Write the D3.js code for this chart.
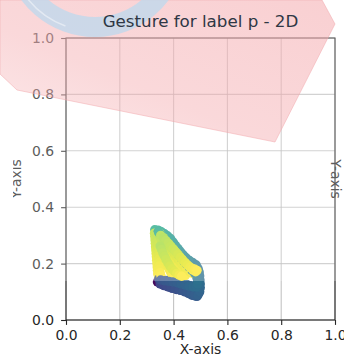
<!DOCTYPE html>
<html>
<head>
<meta charset="utf-8">
<script src="https://cdn.jsdelivr.net/npm/d3@7"></script>
<style>
  html, body { margin: 0; padding: 0; background: #fff; }
  svg { display: block; font-family: "DejaVu Sans", sans-serif; }
</style>
</head>
<body>
<svg id="chart" width="344" height="364"></svg>
<script>
// ---- chart text and ticks ----
const titleText = "Gesture for label p - 2D";
const xLabel = "X-axis";
const yLabel = "Y-axis";
const xTicks = [0.0, 0.2, 0.4, 0.6, 0.8, 1.0];
const yTicks = [0.0, 0.2, 0.4, 0.6, 0.8, 1.0];

// ---- gesture samples: [x, y, t] in drawing order, t = normalised time stamp ----
const sample1 = [
  [0.340,0.135,0.02],[0.355,0.130,0.05],[0.370,0.125,0.08],[0.385,0.119,0.11],[0.400,0.116,0.14],[0.415,0.114,0.17],[0.430,0.112,0.20],[0.445,0.106,0.22],[0.460,0.098,0.24],[0.474,0.090,0.26],[0.487,0.084,0.28],
  [0.494,0.095,0.29],[0.496,0.108,0.30],[0.495,0.122,0.31],[0.495,0.136,0.33],[0.495,0.150,0.35],[0.494,0.165,0.37],[0.492,0.178,0.39],
  [0.484,0.195,0.41],[0.472,0.203,0.42],[0.460,0.210,0.44],[0.448,0.219,0.45],[0.437,0.229,0.46],[0.427,0.240,0.48],[0.417,0.252,0.49],[0.407,0.264,0.50],[0.398,0.276,0.52],[0.389,0.288,0.53],[0.378,0.298,0.54],[0.366,0.306,0.56],[0.354,0.313,0.57],[0.342,0.318,0.58],[0.330,0.320,0.60],
  [0.329,0.308,0.88],[0.330,0.296,0.89],[0.331,0.284,0.90],[0.332,0.272,0.91],[0.333,0.260,0.92],[0.334,0.248,0.93],[0.335,0.236,0.94],[0.336,0.224,0.95],[0.337,0.212,0.96],[0.338,0.200,0.97],[0.339,0.188,0.97],[0.340,0.176,0.98],[0.341,0.164,0.99],[0.344,0.153,1.00]
];
const sample2 = [
  [0.345,0.146,0.24],[0.360,0.143,0.25],[0.375,0.140,0.26],[0.390,0.137,0.27],[0.405,0.135,0.28],[0.420,0.133,0.29],[0.435,0.130,0.30],[0.450,0.126,0.31],[0.465,0.122,0.32],[0.478,0.118,0.33],
  [0.487,0.125,0.34],[0.490,0.138,0.35],[0.489,0.150,0.36],[0.487,0.162,0.37],[0.484,0.175,0.38],
  [0.476,0.188,0.40],[0.465,0.196,0.42],[0.453,0.205,0.44],[0.442,0.215,0.45],[0.431,0.226,0.47],[0.421,0.238,0.48],[0.411,0.250,0.50],[0.401,0.262,0.51],[0.392,0.274,0.53],[0.382,0.286,0.54],[0.371,0.296,0.56],[0.359,0.305,0.57],[0.347,0.312,0.59],
  [0.345,0.300,0.88],[0.348,0.288,0.89],[0.351,0.276,0.90],[0.354,0.264,0.91],[0.357,0.252,0.92],[0.360,0.240,0.93],[0.364,0.228,0.94],[0.368,0.216,0.95],[0.372,0.204,0.96],[0.377,0.192,0.97],[0.383,0.180,0.98],[0.389,0.169,0.98],[0.396,0.159,0.99],[0.403,0.151,1.00]
];
const sample3 = [
  [0.350,0.128,0.20],[0.365,0.122,0.21],[0.380,0.117,0.22],[0.395,0.112,0.23],[0.410,0.108,0.24],[0.425,0.105,0.25],[0.440,0.100,0.26],[0.455,0.094,0.27],[0.468,0.088,0.28],[0.480,0.085,0.29],
  [0.488,0.094,0.30],[0.491,0.107,0.31],[0.492,0.121,0.32],[0.490,0.135,0.34],[0.487,0.149,0.36],[0.482,0.162,0.38],
  [0.475,0.176,0.40],[0.466,0.186,0.41],[0.456,0.195,0.42],[0.446,0.205,0.44],[0.436,0.215,0.45],[0.426,0.226,0.46],[0.416,0.237,0.48],[0.406,0.249,0.49],[0.397,0.261,0.50],[0.388,0.273,0.52],[0.378,0.284,0.53],[0.368,0.294,0.54],[0.357,0.303,0.56],[0.345,0.311,0.58],
  [0.348,0.298,0.87],[0.354,0.287,0.88],[0.360,0.276,0.89],[0.366,0.265,0.90],[0.372,0.254,0.91],[0.378,0.243,0.92],[0.385,0.232,0.93],[0.392,0.221,0.94],[0.399,0.210,0.95],[0.406,0.199,0.96],[0.413,0.189,0.97],[0.420,0.179,0.97],[0.428,0.171,0.98],[0.436,0.164,0.99],[0.444,0.158,1.00]
];
const sample4 = [
  [0.360,0.124,0.22],[0.375,0.120,0.23],[0.390,0.115,0.24],[0.405,0.111,0.25],[0.420,0.108,0.26],[0.435,0.104,0.27],[0.450,0.099,0.28],[0.465,0.093,0.29],[0.478,0.088,0.30],[0.490,0.088,0.31],
  [0.497,0.100,0.32],[0.499,0.114,0.33],[0.499,0.128,0.34],[0.498,0.142,0.35],[0.497,0.156,0.36],[0.495,0.170,0.37],[0.490,0.184,0.38],
  [0.480,0.196,0.40],[0.468,0.204,0.41],[0.456,0.212,0.43],[0.444,0.222,0.44],[0.433,0.233,0.46],[0.422,0.245,0.47],[0.412,0.257,0.49],[0.402,0.269,0.50],[0.392,0.281,0.52],[0.382,0.292,0.53],[0.371,0.301,0.55],[0.359,0.309,0.56],[0.347,0.316,0.58],
  [0.352,0.305,0.86],[0.360,0.294,0.87],[0.368,0.283,0.88],[0.376,0.272,0.89],[0.384,0.261,0.90],[0.392,0.250,0.91],[0.400,0.239,0.92],[0.408,0.228,0.93],[0.416,0.217,0.94],[0.424,0.207,0.95],[0.432,0.197,0.96],[0.440,0.188,0.96],[0.448,0.180,0.97],[0.456,0.173,0.98],[0.464,0.168,0.98],[0.472,0.165,0.99],[0.480,0.163,1.00]
];
const sample5 = [
  [0.352,0.142,0.26],[0.367,0.139,0.27],[0.382,0.137,0.28],[0.397,0.135,0.29],[0.412,0.132,0.30],[0.427,0.128,0.31],[0.442,0.124,0.32],[0.457,0.120,0.33],[0.472,0.117,0.34],[0.485,0.117,0.35],
  [0.490,0.128,0.36],[0.490,0.141,0.37],[0.487,0.154,0.38],
  [0.478,0.166,0.41],[0.468,0.176,0.42],[0.458,0.187,0.44],[0.448,0.198,0.45],[0.438,0.209,0.46],[0.428,0.220,0.48],[0.418,0.232,0.49],[0.408,0.244,0.50],[0.398,0.256,0.52],[0.388,0.268,0.53],[0.378,0.280,0.54],[0.367,0.291,0.56],[0.356,0.301,0.57],[0.345,0.310,0.59],
  [0.352,0.300,0.87],[0.362,0.290,0.88],[0.372,0.280,0.89],[0.382,0.270,0.90],[0.392,0.259,0.91],[0.402,0.248,0.92],[0.412,0.237,0.93],[0.422,0.226,0.94],[0.432,0.215,0.95],[0.442,0.204,0.96],[0.452,0.194,0.97],[0.462,0.185,0.98],[0.472,0.177,0.99],[0.482,0.171,1.00]
];
const sample6 = [
  [0.386,0.222,0.04],[0.384,0.233,0.08],[0.381,0.244,0.12],[0.378,0.255,0.16],[0.375,0.266,0.22],[0.372,0.277,0.28],[0.368,0.287,0.34],[0.360,0.297,0.40],[0.351,0.305,0.46],[0.342,0.312,0.52],
  [0.338,0.300,0.88],[0.339,0.288,0.89],[0.340,0.276,0.90],[0.341,0.264,0.91],[0.342,0.252,0.92],[0.343,0.240,0.93],[0.344,0.228,0.94],[0.345,0.216,0.95],[0.346,0.204,0.96],[0.347,0.192,0.97],[0.348,0.180,0.98],[0.350,0.168,0.99],[0.353,0.157,1.00]
];
const sample7 = [
  [0.362,0.292,0.86],[0.371,0.282,0.87],[0.380,0.272,0.88],[0.389,0.262,0.89],[0.398,0.252,0.90],[0.407,0.242,0.91],[0.416,0.232,0.92],[0.425,0.222,0.93],[0.434,0.212,0.94],[0.443,0.203,0.95],[0.452,0.195,0.96],[0.461,0.188,0.97],[0.470,0.183,0.98],[0.479,0.180,0.99],[0.487,0.176,1.00]
];
const sample8 = [
  [0.350,0.262,0.86],[0.355,0.250,0.87],[0.360,0.238,0.88],[0.366,0.226,0.89],[0.372,0.214,0.90],[0.379,0.202,0.91],[0.386,0.191,0.92],[0.394,0.181,0.93],[0.403,0.172,0.94],[0.412,0.165,0.96],[0.421,0.159,0.98],[0.430,0.155,1.00]
];
const samples = [sample1, sample2, sample6, sample3, sample4, sample5, sample7, sample8];

// ---- layout ----
const svg = d3.select("#chart");
const defs = svg.append("defs");
const x = d3.scaleLinear().domain([0, 1]).range([66, 335]);
const y = d3.scaleLinear().domain([0, 1]).range([320, 38]);
const color = d3.scaleSequential(d3.interpolateViridis).domain([0, 1]);
const fmt = d3.format(".1f");
const ink = "#262626";

const plot = svg.append("g");

// white axes background
plot.append("rect")
  .attr("x", x(0)).attr("y", y(1))
  .attr("width", x(1) - x(0)).attr("height", y(0) - y(1))
  .attr("fill", "#fff");

// grid
plot.append("g").selectAll("line").data(xTicks).join("line")
  .attr("x1", d => x(d)).attr("x2", d => x(d))
  .attr("y1", y(0)).attr("y2", y(1))
  .attr("stroke", "#b0b0b0").attr("stroke-width", 1.1).attr("opacity", 0.75);
plot.append("g").selectAll("line").data(yTicks).join("line")
  .attr("y1", d => y(d)).attr("y2", d => y(d))
  .attr("x1", x(0)).attr("x2", x(1))
  .attr("stroke", "#b0b0b0").attr("stroke-width", 1.1).attr("opacity", 0.75);

// gesture points, one sample after another, coloured by time stamp
const pts = plot.append("g");
samples.forEach(s => {
  pts.append("g").selectAll("circle").data(s).join("circle")
    .attr("cx", d => x(d[0]))
    .attr("cy", d => y(d[1]))
    .attr("r", 4.7)
    .attr("fill", d => color(d[2]));
});

// spines
plot.append("rect")
  .attr("x", x(0)).attr("y", y(1))
  .attr("width", x(1) - x(0)).attr("height", y(0) - y(1))
  .attr("fill", "none").attr("stroke", ink).attr("stroke-width", 1.1);

// axes
const xAxis = plot.append("g")
  .attr("transform", `translate(0,${y(0)})`)
  .call(d3.axisBottom(x).tickValues(xTicks).tickFormat(fmt).tickSize(4.9).tickPadding(5.5));
const yAxis = plot.append("g")
  .attr("transform", `translate(${x(0)},0)`)
  .call(d3.axisLeft(y).tickValues(yTicks).tickFormat(fmt).tickSize(4.9).tickPadding(7));
[xAxis, yAxis].forEach(a => {
  a.select(".domain").remove();
  a.selectAll(".tick line").attr("stroke", ink).attr("stroke-width", 1.1);
  a.selectAll(".tick text").attr("fill", ink)
    .style("font-size", "13.9px").style("font-family", "'DejaVu Sans', sans-serif");
});

// axis labels
plot.append("text")
  .attr("x", (x(0) + x(1)) / 2).attr("y", 354)
  .attr("text-anchor", "middle")
  .attr("fill", ink).style("font-size", "13.9px")
  .text(xLabel);

defs.append("clipPath").attr("id", "leftClip")
  .append("rect").attr("x", 13).attr("y", 0).attr("width", 40).attr("height", 364);
plot.append("g").attr("clip-path", "url(#leftClip)")
  .append("text")
  .attr("transform", "translate(21,179) rotate(-90)")
  .attr("text-anchor", "middle")
  .attr("fill", ink).style("font-size", "13.9px")
  .text(yLabel);
plot.append("text")
  .attr("transform", "translate(331,179) rotate(90)")
  .attr("text-anchor", "middle")
  .attr("fill", ink).style("font-size", "13.9px")
  .text(yLabel);

// ---- light overlay layer on top of the figure ----
const over = svg.append("g").attr("pointer-events", "none");
over.append("rect")
  .attr("x", 0).attr("y", 0).attr("width", 344).attr("height", 281)
  .attr("fill", "#fff").attr("opacity", 0.25);

const grad = defs.append("linearGradient").attr("id", "pinkFade")
  .attr("x1", 1).attr("y1", 0).attr("x2", 0).attr("y2", 1);
grad.append("stop").attr("offset", 0).attr("stop-color", "#f4a9ad").attr("stop-opacity", 0.55);
grad.append("stop").attr("offset", 0.6).attr("stop-color", "#f4a9ad").attr("stop-opacity", 0.45);
grad.append("stop").attr("offset", 1).attr("stop-color", "#f4a9ad").attr("stop-opacity", 0.25);

over.append("path")
  .attr("d", d3.line()([[0,0],[0,74],[17,90],[275,142],[335,24],[322,0]]) + "Z")
  .attr("fill", "url(#pinkFade)")
  .attr("stroke", "#f1a8ac").attr("stroke-opacity", 0.5).attr("stroke-width", 1);

const ring = d3.arc();
over.append("path")
  .attr("transform", "translate(95,-55)")
  .attr("d", ring({ innerRadius: 72, outerRadius: 92, startAngle: Math.PI / 2 + 0.15, endAngle: 3 * Math.PI / 2 - 0.15 }))
  .attr("fill", "#c3d8eb").attr("opacity", 0.85);
over.append("path")
  .attr("transform", "translate(95,-55)")
  .attr("d", ring({ innerRadius: 85.5, outerRadius: 87, startAngle: Math.PI + 0.35, endAngle: Math.PI + 0.9 }))
  .attr("fill", "#fff").attr("opacity", 0.45);

// title sits above the overlay
svg.append("text")
  .attr("x", (x(0) + x(1)) / 2).attr("y", 27)
  .attr("text-anchor", "middle")
  .attr("fill", "#2e3744").style("font-size", "16.7px")
  .text(titleText);
</script>
</body>
</html>
